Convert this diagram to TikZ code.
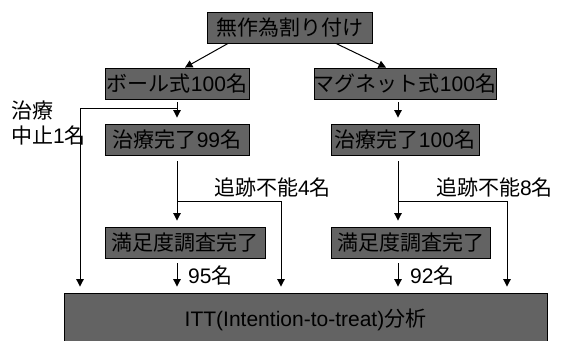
\documentclass[tikz,border=0pt]{standalone}
\usepackage{fontspec}
\setmainfont{Liberation Sans}
\newfontfamily\cjk{Noto Sans CJK JP}
\usetikzlibrary{arrows.meta,calc}
\definecolor{boxgray}{RGB}{99,99,99}
\newcommand\J[1]{{\cjk #1}}
\tikzset{
  box/.style={draw=black, line width=0.9pt, fill=boxgray, inner sep=0pt, minimum height=31pt, font=\fontsize{21}{25}\selectfont, text=black},
  arr/.style={draw=black, line width=1pt, -{Triangle[width=7.5pt,length=7.5pt]}},
  ln/.style={draw=black, line width=1pt},
  lbl/.style={font=\fontsize{21}{25}\selectfont, inner sep=0pt, text=black}
}
\begin{document}
\begin{tikzpicture}[x=1pt,y=-1pt]
\path[use as bounding box, clip] (0,0) rectangle (578,340);
\fill[white] (0,0) rectangle (578,340);
% boxes
\node[box, minimum width=165pt] (top) at (289.5,27.5) {\J{無作為割り付け}};
\node[box, minimum width=144pt] (ball) at (177,83.5) {\J{ボール式}100\J{名}};
\node[box, minimum width=180pt] (mag) at (405,83.5) {\J{マグネット式}100\J{名}};
\node[box, minimum width=144pt] (t99) at (177,139.5) {\J{治療完了}99\J{名}};
\node[box, minimum width=148pt] (t100) at (405,139.5) {\J{治療完了}100\J{名}};
\node[box, minimum width=160pt] (satL) at (185,242.5) {\J{満足度調査完了}};
\node[box, minimum width=159pt] (satR) at (410.5,242.5) {\J{満足度調査完了}};
\node[box, minimum width=483pt, minimum height=54pt] (itt) at (305.5,320) {ITT(Intention-to-treat)\J{分析}};
% labels
\node[lbl, align=left, anchor=west] (stop) at (11,123) {\J{治療}\\\J{中止}1\J{名}};
\node[lbl, anchor=west] (lossL) at (214,188) {\J{追跡不能}4\J{名}};
\node[lbl, anchor=west] (lossR) at (436,188) {\J{追跡不能}8\J{名}};
\node[lbl, anchor=west] (n95) at (188,276) {95\J{名}};
\node[lbl, anchor=west] (n92) at (410,276) {92\J{名}};
% coordinates
\coordinate (sL) at (177,108);
\coordinate (sL2) at (80,108);
\coordinate (bL) at (177,201);
\coordinate (bL2) at (281,201);
\coordinate (xR) at (398,0);
\coordinate (bR) at (398,201);
\coordinate (bR2) at (507,201);
% connectors
\draw[arr] ($(top.south)+(-61.5,0)$) -- ($(ball.north)+(8,0)$);
\draw[arr] ($(top.south)+(46.5,0)$) -- ($(mag.north)+(-19,0)$);
\draw[arr, shorten <=3pt, shorten >=6pt] (ball.south) -- (t99.north);
\draw[arr, shorten >=6pt] (sL) -- (sL2) -- (sL2 |- itt.north);
\draw[arr, shorten <=3pt, shorten >=6pt] (xR |- mag.south) -- (xR |- t100.north);
\draw[arr, shorten <=6pt, shorten >=6pt] (t99.south) -- (t99.south |- satL.north);
\draw[arr, shorten >=6pt] (bL) -- (bL2) -- (bL2 |- itt.north);
\draw[arr, shorten <=6pt, shorten >=6pt] (xR |- t100.south) -- (xR |- satR.north);
\draw[arr, shorten >=6pt] (bR) -- (bR2) -- (bR2 |- itt.north);
\draw[arr, shorten <=5pt, shorten >=6pt] (t99.south |- satL.south) -- (t99.south |- itt.north);
\draw[arr, shorten <=5pt, shorten >=6pt] (xR |- satR.south) -- (xR |- itt.north);
\end{tikzpicture}
\end{document}
